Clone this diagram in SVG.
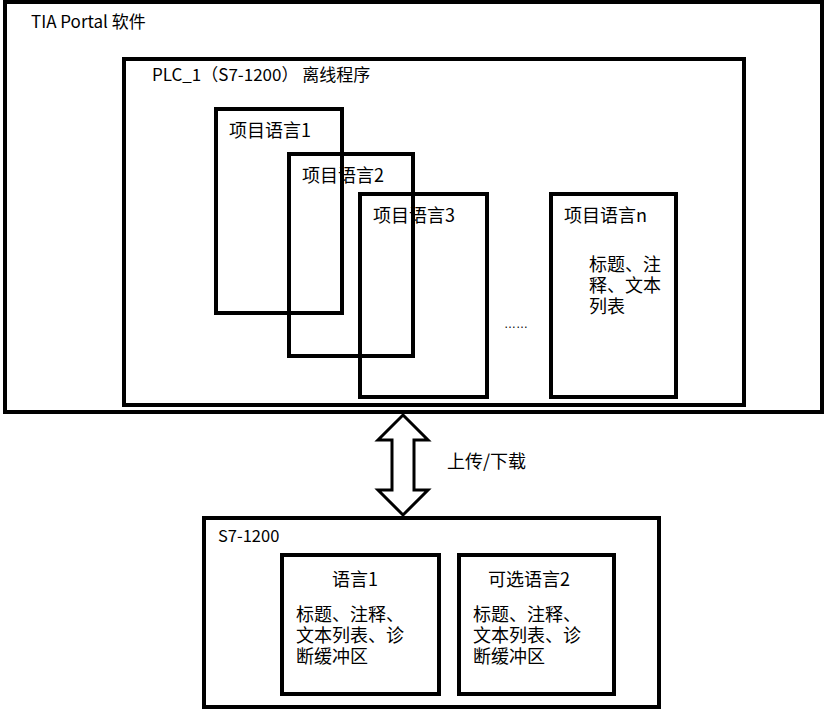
<svg xmlns="http://www.w3.org/2000/svg" width="828" height="713" viewBox="0 0 828 713">
<style>
.box{fill:none;stroke:#000;stroke-width:4}
.t{font-family:"Noto Sans CJK SC","Liberation Sans",sans-serif;font-size:18px;fill:#000}
.s{font-size:17px}
.b{font-family:"Liberation Sans","Noto Sans CJK SC",sans-serif;font-size:18px;fill:#000}
</style>
<rect width="828" height="713" fill="#fff"/>
<g id="tia">
<rect class="box" x="5" y="2" width="817" height="410"/>
<text class="t s" x="31" y="28">TIA Portal 软件</text>
</g>
<g id="plc1">
<rect class="box" x="124" y="59" width="620" height="346"/>
<text class="t s" x="152" y="81">PLC_1（S7-1200） 离线程序</text>
</g>
<g id="lang1">
<rect class="box" x="216" y="109" width="126" height="204"/>
<text class="t" x="229" y="137">项目语言1</text>
</g>
<g id="lang2">
<rect class="box" x="289" y="154" width="124" height="202"/>
<text class="t" x="302" y="182">项目语言2</text>
</g>
<g id="lang3">
<rect class="box" x="360" y="194" width="127" height="203"/>
<text class="t" x="373" y="222">项目语言3</text>
</g>
<g id="dots">
<text x="504" y="328" font-family="Liberation Sans, sans-serif" font-size="12px">……</text>
</g>
<g id="langn">
<rect class="box" x="551" y="194" width="125" height="203"/>
<text class="t" x="564" y="222">项目语言n</text>
<text class="b" x="589" y="271">标题、注</text>
<text class="b" x="589" y="292">释、文本</text>
<text class="b" x="589" y="313">列表</text>
</g>
<g id="connectors">
<polygon points="403,415 428,440 414,440 414,490 428,490 403,515 378,490 392,490 392,440 378,440" fill="#fff" stroke="#000" stroke-width="3" stroke-linejoin="miter"/>
<text class="t" x="447" y="468">上传/下载</text>
</g>
<g id="s71200">
<rect class="box" x="204" y="518" width="455" height="189"/>
<text class="t" x="218" y="542" style="font-size:16.5px">S7-1200</text>
</g>
<g id="dev-lang1">
<rect class="box" x="282" y="555" width="157" height="139"/>
<text class="t" x="332" y="586">语言1</text>
<text class="b" x="296" y="621">标题、注释、</text>
<text class="b" x="296" y="642">文本列表、诊</text>
<text class="b" x="296" y="663">断缓冲区</text>
</g>
<g id="dev-lang2">
<rect class="box" x="459" y="555" width="155" height="139"/>
<text class="t" x="488" y="586">可选语言2</text>
<text class="b" x="473" y="621">标题、注释、</text>
<text class="b" x="473" y="642">文本列表、诊</text>
<text class="b" x="473" y="663">断缓冲区</text>
</g>
</svg>
